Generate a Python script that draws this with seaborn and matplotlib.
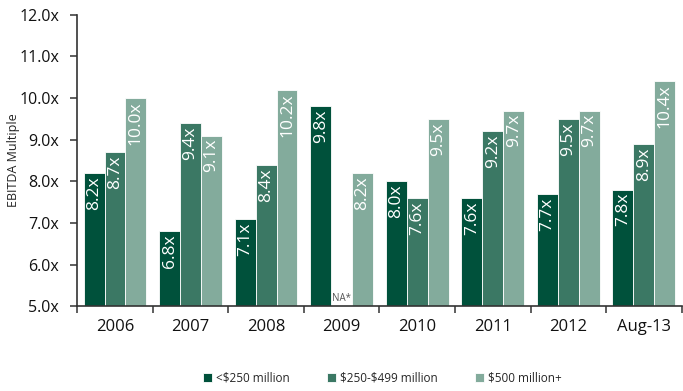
import numpy as np
import pandas as pd
import matplotlib
matplotlib.use("Agg")
import matplotlib.pyplot as plt
from matplotlib.ticker import FixedLocator, FuncFormatter
import seaborn as sns

periods = ["2006", "2007", "2008", "2009", "2010", "2011", "2012", "Aug-13"]
small = [8.2, 6.8, 7.1, 9.8, 8.0, 7.6, 7.7, 7.8]
mid = [8.7, 9.4, 8.4, np.nan, 7.6, 9.2, 9.5, 8.9]
large = [10.0, 9.1, 10.2, 8.2, 9.5, 9.7, 9.7, 10.4]
segments = ["<\\$250 million", "\\$250-\\$499 million", "\\$500 million+"]
colors = ["#00513B", "#3B7864", "#83AB9C"]

df = pd.DataFrame({
    "period": periods * 3,
    "segment": [segments[0]] * 8 + [segments[1]] * 8 + [segments[2]] * 8,
    "multiple": small + mid + large,
})

sns.set_theme(style="white")
plt.rcParams["font.family"] = ["Open Sans", "DejaVu Sans"]

fig = plt.figure(figsize=(6.83, 3.91), dpi=100)
ax = fig.add_axes([0.113, 0.217, 0.885, 0.745])

sns.barplot(data=df, x="period", y="multiple", hue="segment", order=periods,
            hue_order=segments, palette=colors, width=0.83, saturation=1,
            edgecolor="white", linewidth=0.6, ax=ax, legend=True)

ax.set_ylim(5, 12)
ax.set_xlim(-0.5, len(periods) - 0.5)
ax.set_yticks(np.arange(5, 12.01, 1))
ax.yaxis.set_major_formatter(FuncFormatter(lambda v, p: f"{v:.1f}x"))
ax.set_ylabel("EBITDA Multiple", fontsize=9, color="#222222")
ax.yaxis.set_label_coords(-0.094, 0.5)
ax.set_xlabel("")

# value labels inside the top of each bar
for container in ax.containers:
    for patch in container.patches:
        h = patch.get_height()
        if np.isnan(h) or h <= 0:
            continue
        ax.text(patch.get_x() + patch.get_width() / 2, h - 0.08, f"{h:.1f}x",
                rotation=90, ha="center", va="top", color="white", fontsize=12.5)

# missing mid-size value for 2009
ax.text(3, 5.05, "NA*", ha="center", va="bottom", fontsize=7, color="#555555")

for side in ["top", "right"]:
    ax.spines[side].set_visible(False)
for side in ["left", "bottom"]:
    ax.spines[side].set_color("#333333")
    ax.spines[side].set_linewidth(1.2)

ax.tick_params(axis="y", which="major", direction="out", length=5, width=1.1,
               color="#333333", labelsize=11.5, labelcolor="#111111", left=True, pad=8)
ax.tick_params(axis="x", which="major", length=0, labelsize=12,
               labelcolor="#111111", pad=9)
ax.xaxis.set_minor_locator(FixedLocator(np.arange(-0.5, len(periods), 1)))
ax.tick_params(axis="x", which="minor", direction="out", length=5, width=1.1,
               color="#333333", bottom=True)

handles, labels = ax.get_legend_handles_labels()
ax.get_legend().remove()
fig.legend(handles, labels, loc="center", bbox_to_anchor=(0.56, 0.033), ncol=3,
           frameon=False, fontsize=8.5, handlelength=0.75, handleheight=0.9,
           handletextpad=0.3, columnspacing=3.2)

fig.savefig("out.png", dpi=100)
